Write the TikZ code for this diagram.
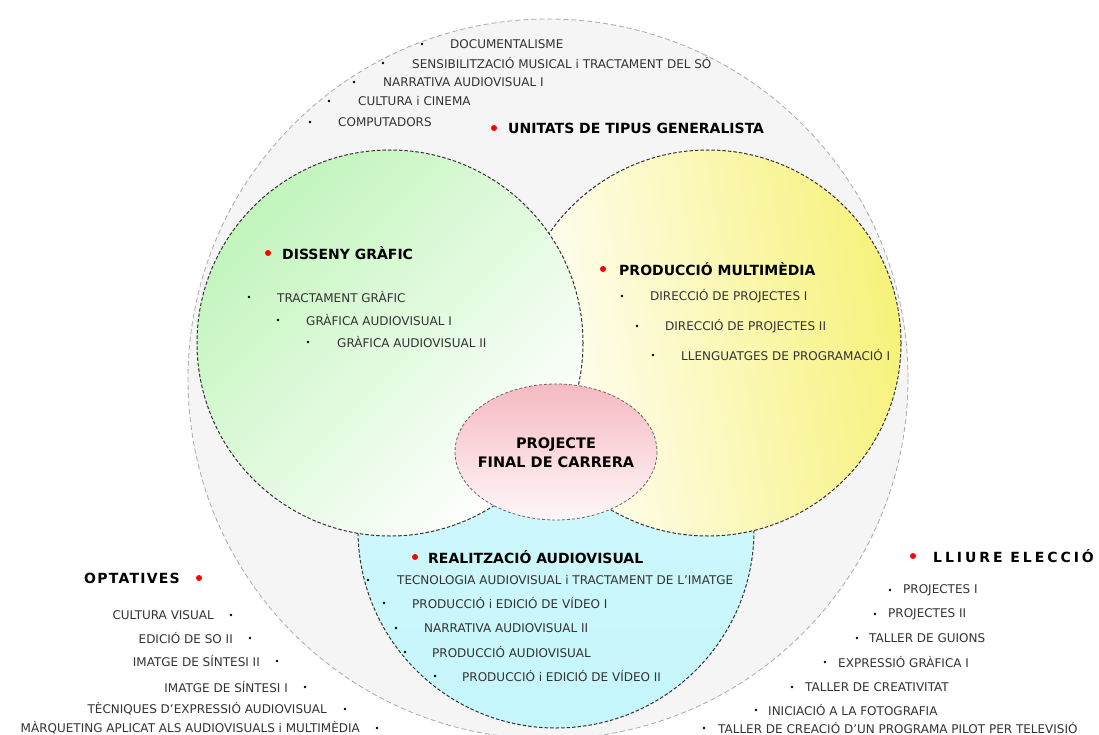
\documentclass[tikz,border=0pt]{standalone}
\usepackage{fontspec}
\setmainfont{DejaVu Sans}
\newfontfamily\spacedfont[LetterSpace=21]{DejaVu Sans}
\newfontfamily\optfont[LetterSpace=9]{DejaVu Sans}
\definecolor{txt}{HTML}{333333}
\definecolor{outerfill}{HTML}{F5F5F5}
\definecolor{outerline}{HTML}{AAAAAA}
\definecolor{greenc}{HTML}{C2F5BC}
\definecolor{yellowc}{HTML}{F7F27A}
\definecolor{cyanc}{HTML}{C4F6FB}
\definecolor{pinkc}{HTML}{F6BAC2}
\definecolor{redbul}{HTML}{FF0000}
\tikzset{
  item/.style={anchor=west, inner sep=0pt, text=txt, font=\fontsize{12}{14}\selectfont},
  itemr/.style={anchor=east, inner sep=0pt, text=txt, font=\fontsize{12}{14}\selectfont},
  head/.style={anchor=west, inner sep=0pt, text=black, font=\fontsize{14}{16}\selectfont\bfseries},
  dot/.style={circle, fill=black, inner sep=0pt, minimum size=2.8pt},
  reddot/.style={circle, fill=redbul, inner sep=0pt, minimum size=6pt},
  innerline/.style={draw=black!80, line width=1pt, dash pattern=on 3.5pt off 2pt},
}
\begin{document}
\begin{tikzpicture}[x=1pt,y=-1pt]
\useasboundingbox (0,0) rectangle (1099,735);
\clip (0,0) rectangle (1099,735);
\fill[white] (0,0) rectangle (1099,735);
% outer circle
\draw[fill=outerfill, draw=outerline, line width=0.8pt, dash pattern=on 5pt off 3pt] (548,379) circle[radius=360];
% cyan
\shade[top color=cyanc!70, bottom color=cyanc] (556,530) circle[radius=198];
\draw[innerline] (556,530) circle[radius=198];
% yellow
\shade[left color=white, right color=yellowc, shading angle=100] (708,343) circle[radius=193];
\draw[innerline] (708,343) circle[radius=193];
% green
\shade[top color=greenc, bottom color=white, shading angle=45] (390,343) circle[radius=193];
\draw[innerline] (390,343) circle[radius=193];
% pink ellipse
\shade[top color=pinkc, bottom color=pinkc!12] (556,452) ellipse[x radius=101, y radius=68];
\draw[draw=black!60, line width=0.8pt, dash pattern=on 3pt off 2pt] (556,452) ellipse[x radius=101, y radius=68];
\node[align=center, inner sep=0pt, font=\fontsize{14.5}{19}\selectfont\bfseries] (pfc) at (556,453) {PROJECTE\\FINAL DE CARRERA};

% generalista
\node[dot] (g1b) at (422,44) {}; \node[item] (g1) at (450,44) {DOCUMENTALISME};
\node[dot] (g2b) at (383,63) {}; \node[item] (g2) at (412,63) {SENSIBILITZACIÓ MUSICAL i TRACTAMENT DEL SÓ};
\node[dot] (g3b) at (354,82) {}; \node[item] (g3) at (383,82) {NARRATIVA AUDIOVISUAL I};
\node[dot] (g4b) at (329,101) {}; \node[item] (g4) at (358,101) {CULTURA i CINEMA};
\node[dot] (g5b) at (310,122) {}; \node[item] (g5) at (338,122) {COMPUTADORS};
\node[reddot] (ghb) at (494,128) {}; \node[head] (gh) at (508,128) {UNITATS DE TIPUS GENERALISTA};

% disseny grafic
\node[reddot] (dhb) at (268,253) {}; \node[head] (dh) at (282,253) {DISSENY GRÀFIC};
\node[dot] (d1b) at (249,297) {}; \node[item] (d1) at (277,297) {TRACTAMENT GRÀFIC};
\node[dot] (d2b) at (278,320) {}; \node[item] (d2) at (306,320) {GRÀFICA AUDIOVISUAL I};
\node[dot] (d3b) at (308,342) {}; \node[item] (d3) at (337,342) {GRÀFICA AUDIOVISUAL II};

% produccio multimedia
\node[reddot] (mhb) at (603,269) {}; \node[head] (mh) at (619,269) {PRODUCCIÓ MULTIMÈDIA};
\node[dot] (m1b) at (622,296) {}; \node[item] (m1) at (650,296) {DIRECCIÓ DE PROJECTES I};
\node[dot] (m2b) at (637,326) {}; \node[item] (m2) at (665,326) {DIRECCIÓ DE PROJECTES II};
\node[dot] (m3b) at (653,355) {}; \node[item] (m3) at (681,355) {LLENGUATGES DE PROGRAMACIÓ I};

% realitzacio audiovisual
\node[reddot] (rhb) at (415,557) {}; \node[head] (rh) at (428,557) {REALITZACIÓ AUDIOVISUAL};
\node[dot] (r1b) at (368,580) {}; \node[item] (r1) at (397,580) {TECNOLOGIA AUDIOVISUAL i TRACTAMENT DE L'IMATGE};
\node[dot] (r2b) at (384,603) {}; \node[item] (r2) at (412,603) {PRODUCCIÓ i EDICIÓ DE VÍDEO I};
\node[dot] (r3b) at (396,628) {}; \node[item] (r3) at (424,628) {NARRATIVA AUDIOVISUAL II};
\node[dot] (r4b) at (405,652) {}; \node[item] (r4) at (432,652) {PRODUCCIÓ AUDIOVISUAL};
\node[dot] (r5b) at (435,676) {}; \node[item] (r5) at (462,676) {PRODUCCIÓ i EDICIÓ DE VÍDEO II};

% optatives
\node[head, anchor=east, font=\fontsize{14}{16}\selectfont\optfont\bfseries] (oh) at (180,578) {OPTATIVES};
\node[reddot] (ohb) at (199,578) {};
\node[itemr] (o1) at (214,615) {CULTURA VISUAL}; \node[dot] (o1b) at (231,615) {};
\node[itemr] (o2) at (233,638) {EDICIÓ DE SO II}; \node[dot] (o2b) at (250,638) {};
\node[itemr] (o3) at (260,661) {IMATGE DE SÍNTESI II}; \node[dot] (o3b) at (277,661) {};
\node[itemr] (o4) at (288,687) {IMATGE DE SÍNTESI I}; \node[dot] (o4b) at (305,687) {};
\node[itemr] (o5) at (327,709) {TÈCNIQUES D'EXPRESSIÓ AUDIOVISUAL}; \node[dot] (o5b) at (345,709) {};
\node[itemr] (o6) at (360,728) {MÀRQUETING APLICAT ALS AUDIOVISUALS i MULTIMÈDIA}; \node[dot] (o6b) at (377,728) {};

% lliure eleccio
\node[reddot] (lhb) at (913,556) {};
\node[head, font=\fontsize{14}{16}\selectfont\spacedfont\bfseries] (lh) at (933,556) {LLIURE ELECCIÓ};
\node[dot] (l1b) at (890,590) {}; \node[item] (l1) at (903,590) {PROJECTES I};
\node[dot] (l2b) at (875,614) {}; \node[item] (l2) at (888,614) {PROJECTES II};
\node[dot] (l3b) at (857,638) {}; \node[item] (l3) at (869,638) {TALLER DE GUIONS};
\node[dot] (l4b) at (825,662) {}; \node[item] (l4) at (838,662) {EXPRESSIÓ GRÀFICA I};
\node[dot] (l5b) at (792,687) {}; \node[item] (l5) at (805,687) {TALLER DE CREATIVITAT};
\node[dot] (l6b) at (756,710) {}; \node[item] (l6) at (768,710) {INICIACIÓ A LA FOTOGRAFIA};
\node[dot] (l7b) at (704,728) {}; \node[item] (l7) at (718,728) {TALLER DE CREACIÓ D'UN PROGRAMA PILOT PER TELEVISIÓ};
\end{tikzpicture}
\end{document}
